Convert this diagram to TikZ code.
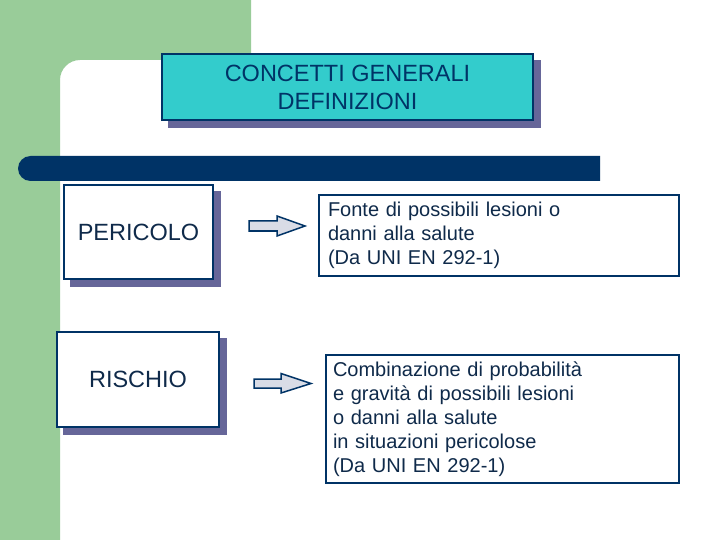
\documentclass[tikz,border=0pt]{standalone}
\usepackage{fontspec}
\setmainfont{Liberation Sans}
\usetikzlibrary{backgrounds}
\definecolor{bggreen}{HTML}{99CC99}
\definecolor{navy}{HTML}{003366}
\definecolor{tcyan}{HTML}{33CCCC}
\definecolor{shadowc}{HTML}{666699}
\definecolor{arrfill}{HTML}{D9DCE6}
\definecolor{txt}{HTML}{0F2A4A}
\begin{document}
\begin{tikzpicture}[x=1pt,y=-1pt,
  box/.style={draw=navy, line width=2pt, fill=white, inner sep=0pt, text=txt},
  termbox/.style={box, font=\fontsize{23.5}{27}\selectfont},
  defbox/.style={box, align=left, font=\fontsize{20}{24}\selectfont},
  blockarrow/.style={draw=navy, line width=1.5pt, fill=arrfill, line join=miter}]
\useasboundingbox (0,0) rectangle (720,540);
\begin{pgfonlayer}{background}
  \fill[white] (0,0) rectangle (720,540);
  \fill[bggreen] (0,0) -- (251,0) -- (251,60) -- (80,60)
     .. controls (69,60) and (60,69) .. (60,80) -- (60,540) -- (0,540) -- cycle;
\end{pgfonlayer}
% dark bar
\fill[navy] (600,156) -- (30.5,156) .. controls (23.6,156) and (18,161.6) .. (18,168.5)
   .. controls (18,175.4) and (23.6,181) .. (30.5,181) -- (600,181) -- cycle;
% title
\node[box, fill=tcyan, text=navy, minimum width=371pt, minimum height=66pt, align=center,
  font=\fontsize{23.5}{28}\selectfont] (title) at (347.5,87) {CONCETTI GENERALI\\DEFINIZIONI};
% terms
\node[termbox, minimum width=149pt, minimum height=94pt] (per) at (138.5,232) {PERICOLO};
\node[termbox, minimum width=162pt, minimum height=95pt] (ris) at (138,379.5) {RISCHIO};
% definitions
\node[defbox, text width=342pt, inner xsep=9pt, minimum height=81pt] (d1) at (499,235.5)
  {Fonte di possibili lesioni o\\danni alla salute\\(Da UNI EN 292-1)};
\node[defbox, text width=339pt, inner xsep=7pt, minimum height=128pt] (d2) at (502.5,419)
  {Combinazione di probabilità\\e gravità di possibili lesioni\\o danni alla salute\\in situazioni pericolose\\(Da UNI EN 292-1)};
% shadows
\begin{pgfonlayer}{background}
  \foreach \n in {title,per,ris}
    \fill[shadowc] ([shift={(7,7)}]\n.south west) rectangle ([shift={(7,7)}]\n.north east);
\end{pgfonlayer}
% block arrows
\coordinate (a1) at (249,226);
\coordinate (a2) at (254,383.5);
\draw[blockarrow, shift={(a1)}] (0,-5) -- (28,-5) -- (28,-10) -- (56,0) -- (28,10) -- (28,5) -- (0,5) -- cycle;
\draw[blockarrow, shift={(a2)}] (0,-4.5) -- (27,-4.5) -- (27,-10) -- (57,0) -- (27,9.5) -- (27,4.5) -- (0,4.5) -- cycle;
\end{tikzpicture}
\end{document}
